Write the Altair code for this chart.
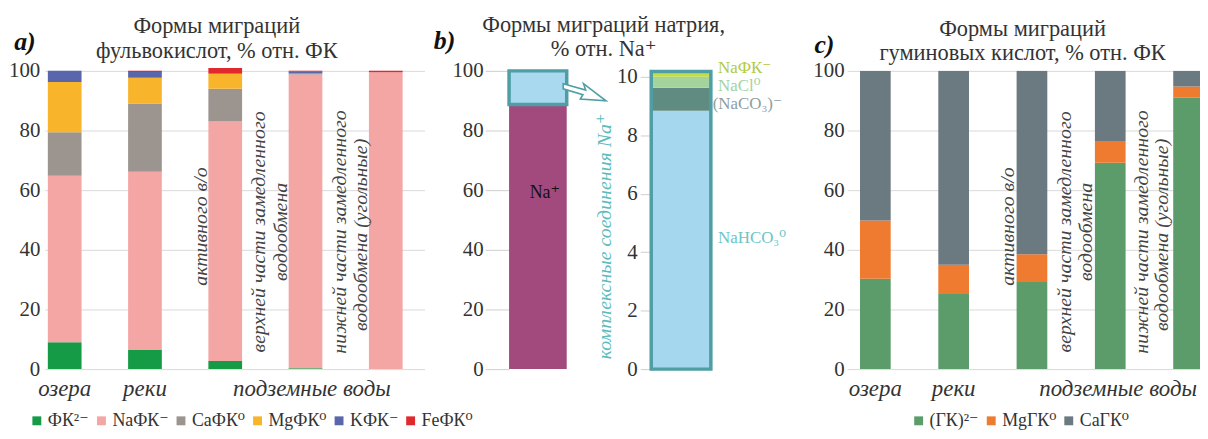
import altair as alt
import pandas as pd

FONT = "'Liberation Serif', 'Times New Roman', Times, 'DejaVu Serif', serif"
TXT = "#333333"
GRID = "#d9d9d9"
TEAL = "#4e9ea4"

# ---------------- data: panel a (fulvic acids), % of FA ----------------
a_forms = ["ФК²⁻", "NaФК⁻", "CaФК⁰", "MgФК⁰", "KФК⁻", "FeФК⁰"]
a_fk2 = [9.0, 6.4, 2.7, 0.3, 0.0]
a_nafk = [55.8, 59.8, 80.3, 98.5, 99.5]
a_cafk = [14.6, 22.9, 11.0, 0.3, 0.0]
a_mgfk = [16.9, 8.6, 5.0, 0.0, 0.0]
a_kfk = [3.7, 1.9, 0.3, 0.6, 0.0]
a_fefk = [0.0, 0.4, 1.7, 0.3, 0.5]
a_colors = ["#159a45", "#f4a6a5", "#9b948f", "#f8b52b", "#5a66ab", "#e0292c"]

# ---------------- data: panel c (humic acids), % of HA ----------------
c_forms = ["(ГК)²⁻", "MgГК⁰", "CaГК⁰"]
c_gk = [30.3, 25.2, 29.2, 69.2, 91.0]
c_mggk = [19.5, 9.8, 9.3, 7.3, 3.8]
c_cagk = [50.2, 65.0, 61.5, 23.5, 5.2]
c_colors = ["#5c9c6b", "#ef7b31", "#6b7980"]

# ---------------- data: panel b (sodium) ----------------
b_parts = ["Na⁺", "комплексные соединения"]
b_values = [88.7, 11.3]
b_colors = ["#a24a7e", "#a9d9ef"]

b_cx_forms = ["NaHCO₃⁰", "(NaCO₃)⁻", "NaCl⁰", "NaФК⁻"]
b_cx_values = [8.84, 0.78, 0.38, 0.18]
b_cx_colors = ["#a5d7ee", "#5f8b81", "#a4d49c", "#c3dd48"]
b_cx_label_colors = ["#6cc5c7", "#8d9ea2", "#a3d2a0", "#b2cc3b"]

# ---------------- texts ----------------
group_labels = ["озера", "реки", "подземные воды"]
note_lines = ["активного в/о",
              "верхней части замедленного", "водообмена",
              "нижней части замедленного", "водообмена (угольные)"]
title_a = ["Формы миграций", "фульвокислот, % отн. ФК"]
title_b = ["Формы миграций натрия,", "% отн. Na⁺"]
title_c = ["Формы миграций", "гуминовых кислот, % отн. ФК"]
b_axis_title = "комплексные соединения Na⁺"

# ---------------- layout (annotation anchors in data units) ----------------
A_XDOM = [-0.248, 4.483]
C_XDOM = [-0.361, 4.146]
A_HALF, C_HALF = 0.21, 0.196
a_group_x = [0, 1, 3.08]
c_group_x = [0, 1, 3.1]
a_note_x = [1.70, 2.415, 2.70, 3.43, 3.69]
c_note_x = [1.70, 2.424, 2.69, 3.40, 3.666]
note_y = [47.8, 46, 46, 46, 45]
H = 300


def long_df(forms, series):
    rows = []
    for k, (f, vals) in enumerate(zip(forms, series)):
        for i, v in enumerate(vals):
            rows.append({"idx": i, "form": f, "value": v, "order": k})
    return pd.DataFrame(rows)


def stacked_panel(df, forms, colors, xdom, half, tlines, tx, ty, tag, tagx, tagy,
                  group_x, note_x, lab_y, legx, width, label_pad, clip):
    xs = alt.Scale(domain=xdom, nice=False, zero=False)
    ys = alt.Scale(domain=[0, 100], nice=False, zero=False)
    yax = alt.Axis(values=[0, 20, 40, 60, 80, 100], grid=True, gridColor=GRID,
                   domain=False, ticks=False, labelFont=FONT, labelFontSize=21,
                   labelColor=TXT, labelPadding=label_pad, title=None)

    def X(f):
        return alt.X(f, scale=xs, axis=None)

    def Y(f):
        return alt.Y(f, scale=ys, axis=yax)

    bars = alt.Chart(df).transform_stack(
        stack="value", groupby=["idx"], as_=["y0", "y1"],
        sort=[alt.SortField("order", order="ascending")]
    ).transform_calculate(
        x0=f"datum.idx - {half}", x1=f"datum.idx + {half}"
    ).mark_rect(clip=clip).encode(
        x=X("x0:Q"), x2="x1:Q", y=Y("y0:Q"), y2="y1:Q",
        color=alt.Color("form:N", scale=alt.Scale(domain=forms, range=colors),
                        legend=alt.Legend(orient="none", legendX=legx, legendY=343,
                                          direction="horizontal", title=None,
                                          symbolType="square", symbolSize=80,
                                          symbolStrokeWidth=0, labelFont=FONT,
                                          labelFontSize=18, labelColor=TXT,
                                          columnPadding=3, labelOffset=2)),
    )
    tdf = pd.DataFrame({"t": tlines, "x": [tx, tx], "y": ty})
    titles = alt.Chart(tdf).mark_text(font=FONT, fontSize=22.5, color=TXT).encode(
        x=X("x:Q"), y=Y("y:Q"), text="t:N")
    tg = alt.Chart(pd.DataFrame({"t": [tag], "x": [tagx], "y": [tagy]})).mark_text(
        font=FONT, fontSize=26, fontWeight="bold", fontStyle="italic", color="#111111"
    ).encode(x=X("x:Q"), y=Y("y:Q"), text="t:N")
    gdf = pd.DataFrame({"t": group_labels, "x": group_x, "y": [lab_y] * 3})
    glab = alt.Chart(gdf).mark_text(font=FONT, fontSize=23, fontStyle="italic", color=TXT).encode(
        x=X("x:Q"), y=Y("y:Q"), text="t:N")
    ndf = pd.DataFrame({"t": note_lines, "x": note_x, "y": note_y})
    nlab = alt.Chart(ndf).mark_text(font=FONT, fontSize=20, fontStyle="italic", color="#444444",
                                     angle=270, baseline="middle", align="center").encode(
        x=X("x:Q"), y=Y("y:Q"), text="t:N")
    return alt.layer(bars, titles, tg, glab, nlab).properties(width=width, height=H)


# ---------------- panel a ----------------
df_a = long_df(a_forms, [a_fk2, a_nafk, a_cafk, a_mgfk, a_kfk, a_fefk])
panel_a = stacked_panel(df_a, a_forms, a_colors, A_XDOM, A_HALF, title_a, 1.895, [115, 106.7],
                        "a)", -0.495, 109.7, a_group_x, a_note_x, -6.7, -17, 382, 5, False)

# ---------------- panel c ----------------
df_c = long_df(c_forms, [c_gk, c_mggk, c_cagk])
panel_c = stacked_panel(df_c, c_forms, c_colors, C_XDOM, C_HALF, title_c, 1.88, [114, 106],
                        "c)", -0.65, 108.8, c_group_x, c_note_x, -6.7, 63, 355, 3, True)

# ---------------- panel b, left bar ----------------
bl_xs = alt.Scale(domain=[0, 1], nice=False, zero=False)
bl_ys = alt.Scale(domain=[0, 100], nice=False, zero=False)
bl_yax = alt.Axis(values=[0, 20, 40, 60, 80, 100], grid=False, domain=False, ticks=True,
                  tickSize=24, tickColor="#cfcfcf", labelFont=FONT, labelFontSize=21,
                  labelColor=TXT, labelPadding=2, title=None)


def BLX(f):
    return alt.X(f, scale=bl_xs, axis=None)


def BLY(f):
    return alt.Y(f, scale=bl_ys, axis=bl_yax)


df_bl = pd.DataFrame({"part": b_parts, "value": b_values, "col": b_colors, "order": [0, 1]})
bl_base = alt.Chart(df_bl).transform_stack(
    stack="value", groupby=[], as_=["y0", "y1"], sort=[alt.SortField("order", order="ascending")]
).transform_calculate(x0="0", x1="1")
bl_bars = bl_base.mark_rect().encode(
    x=BLX("x0:Q"), x2="x1:Q", y=BLY("y0:Q"), y2="y1:Q",
    color=alt.Color("col:N", scale=None),
)
bl_box = bl_base.transform_filter(alt.datum.order == 1).mark_rect(
    filled=False, stroke=TEAL, strokeWidth=3.5).encode(
    x=BLX("x0:Q"), x2="x1:Q", y=BLY("y0:Q"), y2="y1:Q")
bl_na = alt.Chart(pd.DataFrame({"t": [b_parts[0]], "x": [0.62], "y": [59.1]})).mark_text(
    font=FONT, fontSize=18, color="#111111").encode(x=BLX("x:Q"), y=BLY("y:Q"), text="t:N")
bl_title = alt.Chart(pd.DataFrame({"t": title_b, "x": [1.64, 1.64], "y": [115.3, 107.3]})).mark_text(
    font=FONT, fontSize=22.5, color=TXT).encode(x=BLX("x:Q"), y=BLY("y:Q"), text="t:N")
bl_tag = alt.Chart(pd.DataFrame({"t": ["b)"], "x": [-1.12], "y": [110]})).mark_text(
    font=FONT, fontSize=26, fontWeight="bold", fontStyle="italic", color="#111111").encode(
    x=BLX("x:Q"), y=BLY("y:Q"), text="t:N")
ARROW = "M -1 -0.42 L 0.05 -0.12 L -0.05 -0.42 L 1 0.38 L -0.2 0.3 L -0.08 0.1 L -1 -0.18 Z"
bl_arrow = alt.Chart(pd.DataFrame({"x": [1.31], "y": [92.7]})).mark_point(
    shape=ARROW, size=1850, fill="white", fillOpacity=1, stroke=TEAL, strokeWidth=1.6,
    opacity=1).encode(x=BLX("x:Q"), y=BLY("y:Q"))
panel_bl = alt.layer(bl_bars, bl_box, bl_na, bl_title, bl_tag, bl_arrow).properties(width=58, height=H)

# ---------------- panel b, right bar (complexes) ----------------
br_xs = alt.Scale(domain=[0, 1.867], nice=False, zero=False)
br_ys = alt.Scale(domain=[0, 10.2], nice=False, zero=False)
br_yax = alt.Axis(values=[0, 2, 4, 6, 8, 10], grid=False, domain=False, ticks=True, tickSize=11,
                  tickColor="#cfcfcf", labelFont=FONT, labelFontSize=21, labelColor=TXT,
                  labelPadding=3, title=b_axis_title, titleFont=FONT, titleFontSize=20,
                  titleFontStyle="italic", titleFontWeight="normal", titleColor="#5cbcbd",
                  titlePadding=2, titleY=166)


def BRX(f):
    return alt.X(f, scale=br_xs, axis=None)


def BRY(f):
    return alt.Y(f, scale=br_ys, axis=br_yax)


df_br = pd.DataFrame({"form": b_cx_forms, "value": b_cx_values, "col": b_cx_colors,
                      "order": list(range(len(b_cx_forms)))})
br_base = alt.Chart(df_br).transform_stack(
    stack="value", groupby=[], as_=["y0", "y1"], sort=[alt.SortField("order", order="ascending")]
).transform_calculate(x0="0", x1="1")
br_bars = br_base.mark_rect().encode(
    x=BRX("x0:Q"), x2="x1:Q", y=BRY("y0:Q"), y2="y1:Q",
    color=alt.Color("col:N", scale=None),
)
br_box = br_base.transform_aggregate(total="sum(value)").transform_calculate(
    x0="0", x1="1", z="0").mark_rect(filled=False, stroke=TEAL, strokeWidth=3.5).encode(
    x=BRX("x0:Q"), x2="x1:Q", y=BRY("z:Q"), y2="total:Q")
lab_df = pd.DataFrame({"t": b_cx_forms, "lcol": b_cx_label_colors,
                       "x": [1.12, 1.03, 1.12, 1.12], "y": [4.49, 9.06, 9.67, 10.29]})
br_labels = alt.Chart(lab_df).mark_text(font=FONT, fontSize=17, align="left").encode(
    x=BRX("x:Q"), y=BRY("y:Q"), text="t:N", color=alt.Color("lcol:N", scale=None))
panel_br = alt.layer(br_bars, br_box, br_labels).properties(width=112, height=H)

chart = alt.hconcat(panel_a, panel_bl, panel_br, panel_c, spacing=85, bounds="flush").resolve_scale(
    color="independent").properties(
    padding={"left": 0, "top": 5, "right": 0, "bottom": 0}).configure_view(stroke=None)

chart.save("out.html", embed_options={"renderer": "svg", "actions": False})
